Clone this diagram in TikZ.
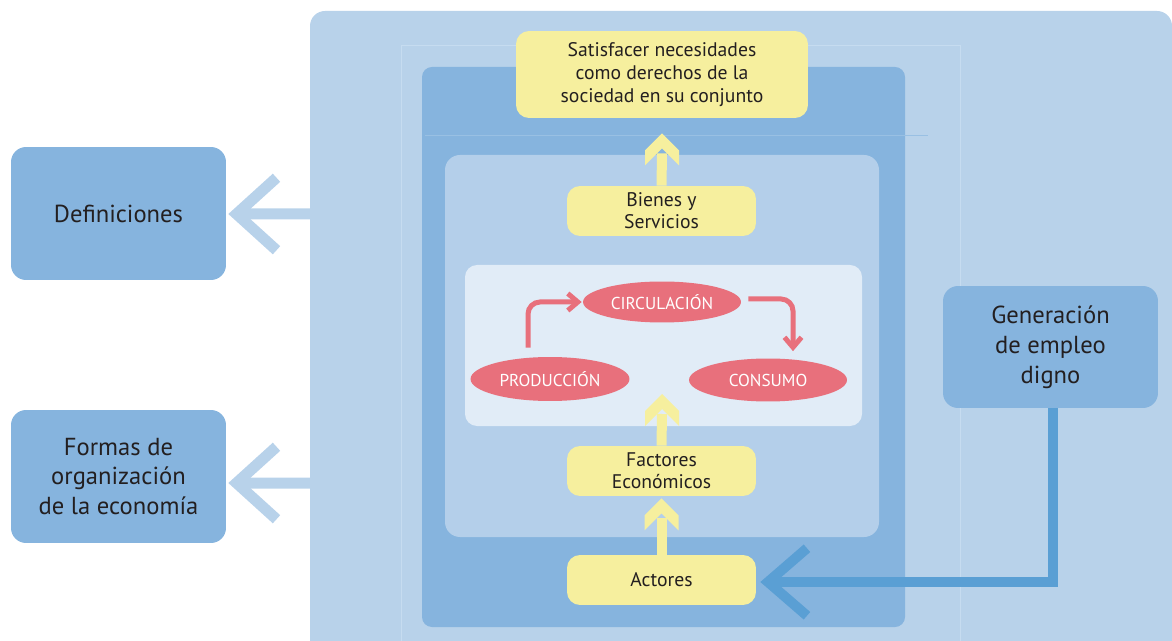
\documentclass[tikz,border=0pt]{standalone}
\usepackage{fontspec}
\setmainfont{PT Sans}
\usetikzlibrary{arrows.meta,calc,shapes.geometric}
\definecolor{bgblue}{HTML}{B8D2EA}
\definecolor{darkblue}{HTML}{86B4DE}
\definecolor{innerblue}{HTML}{B4CFEA}
\definecolor{lightblue}{HTML}{E1ECF7}
\definecolor{yel}{HTML}{F6EF9E}
\definecolor{pink}{HTML}{E8707C}
\definecolor{arrblue}{HTML}{5A9FD4}
\definecolor{txt}{HTML}{231F20}
\definecolor{faint}{HTML}{C6DCF0}
\tikzset{
  sidebox/.style={fill=darkblue, rounded corners=0.3cm, minimum width=4.3cm, minimum height=2.66cm, align=center, text=txt, font=\fontsize{14}{17}\selectfont, inner sep=0pt},
  ybox/.style={fill=yel, rounded corners=0.26cm, align=center, text=txt, font=\fontsize{11.2}{13}\selectfont, inner sep=0pt, minimum width=3.78cm, minimum height=1cm},
  pell/.style={ellipse, fill=pink, text=white, inner sep=0pt, font=\fontsize{9.8}{10}\selectfont},
  yshaft/.style={draw=yel, line width=0.2cm},
  lbarrow/.style={draw=bgblue, line width=0.22cm, -{Straight Barb[length=0.8cm, width=1.45cm]}},
  dbarrow/.style={draw=arrblue, line width=0.2cm, -{Straight Barb[length=0.78cm, width=1.35cm]}},
  parrow/.style={draw=pink, line width=0.1cm, rounded corners=0.24cm, -{Straight Barb[length=0.2cm, width=0.34cm]}},
  yhead/.pic={\fill[yel] (-17,32) -- (-17,17) -- (0,0) -- (17,17) -- (17,32) -- (0,15) -- cycle;}
}
\begin{document}
\begin{tikzpicture}[x=0.02cm, y=-0.02cm]
\useasboundingbox (0,0) rectangle (1172,641);
% backgrounds
\fill[bgblue] (310,641) [rounded corners=0.3cm] -- (310,11) -- (1172,11) [sharp corners] -- (1172,641) -- cycle;
\draw[faint, line width=0.5pt] (401,641) -- (401,45) -- (960,45) -- (960,641);
\fill[darkblue, rounded corners=0.2cm] (422,67) rectangle (905,627);
\draw[faint!30!darkblue, line width=0.4pt] (425,135) -- (928,135);
\fill[innerblue, rounded corners=0.3cm] (445,155) rectangle (879,537);
\fill[lightblue, rounded corners=0.24cm] (465,265) rectangle (862,426);

% nodes
\node[sidebox] (def) at (118.5,213.5) {Definiciones};
\node[sidebox] (formas) at (118.5,476.5) {Formas de\\organización\\de la economía};
\node[sidebox, minimum height=2.44cm] (gen) at (1050.5,347) {Generación\\de empleo\\digno};

\node[ybox, minimum width=5.84cm, minimum height=1.74cm] (sat) at (662,74.5) {Satisfacer necesidades\\como derechos de la\\sociedad en su conjunto};
\node[ybox, font=\fontsize{11.2}{12.5}\selectfont] (bien) at (661.5,211) {Bienes y\\Servicios};
\node[ybox, font=\fontsize{11.2}{12.5}\selectfont] (fact) at (661.5,471) {Factores\\Económicos};
\node[ybox] (act) at (661.5,580) {Actores};

\node[pell, minimum width=3.16cm, minimum height=0.82cm] (circ) at (662,302) {CIRCULACIÓN};
\node[pell, minimum width=3.18cm, minimum height=0.88cm] (prod) at (550,379) {PRODUCCIÓN};
\node[pell, minimum width=3.16cm, minimum height=0.86cm] (cons) at (768,380) {CONSUMO};

% yellow arrows
\coordinate (t1) at ($(sat.south)+(0,15)$);
\draw[yshaft] (bien.north) -- ($(t1)+(0,20)$);
\pic at (t1) {yhead};
\coordinate (t2) at (662,394);
\draw[yshaft] (fact.north) -- ($(t2)+(0,20)$);
\pic at (t2) {yhead};
\coordinate (t3) at ($(fact.south)+(0,2)$);
\draw[yshaft] (act.north) -- ($(t3)+(0,20)$);
\pic at (t3) {yhead};

% pink arrows
\draw[parrow] ($(prod.north)+(-22,-9)$) |- ($(circ.west)+(-1,0)$);
\draw[parrow] ($(circ.east)+(7,-3)$) -| ($(cons.north)+(25,-7)$);

% left arrows
\coordinate (e1) at (310,214);
\coordinate (e2) at (310,483);
\draw[lbarrow] (e1) -- ($(def.east)+(2,0.5)$);
\draw[lbarrow] (e2) -- ($(formas.east)+(2,6.5)$);

% generacion arrow
\draw[dbarrow] ($(gen.south)+(2.5,0)$) |- ($(act.east)+(4,2)$);
\end{tikzpicture}
\end{document}
